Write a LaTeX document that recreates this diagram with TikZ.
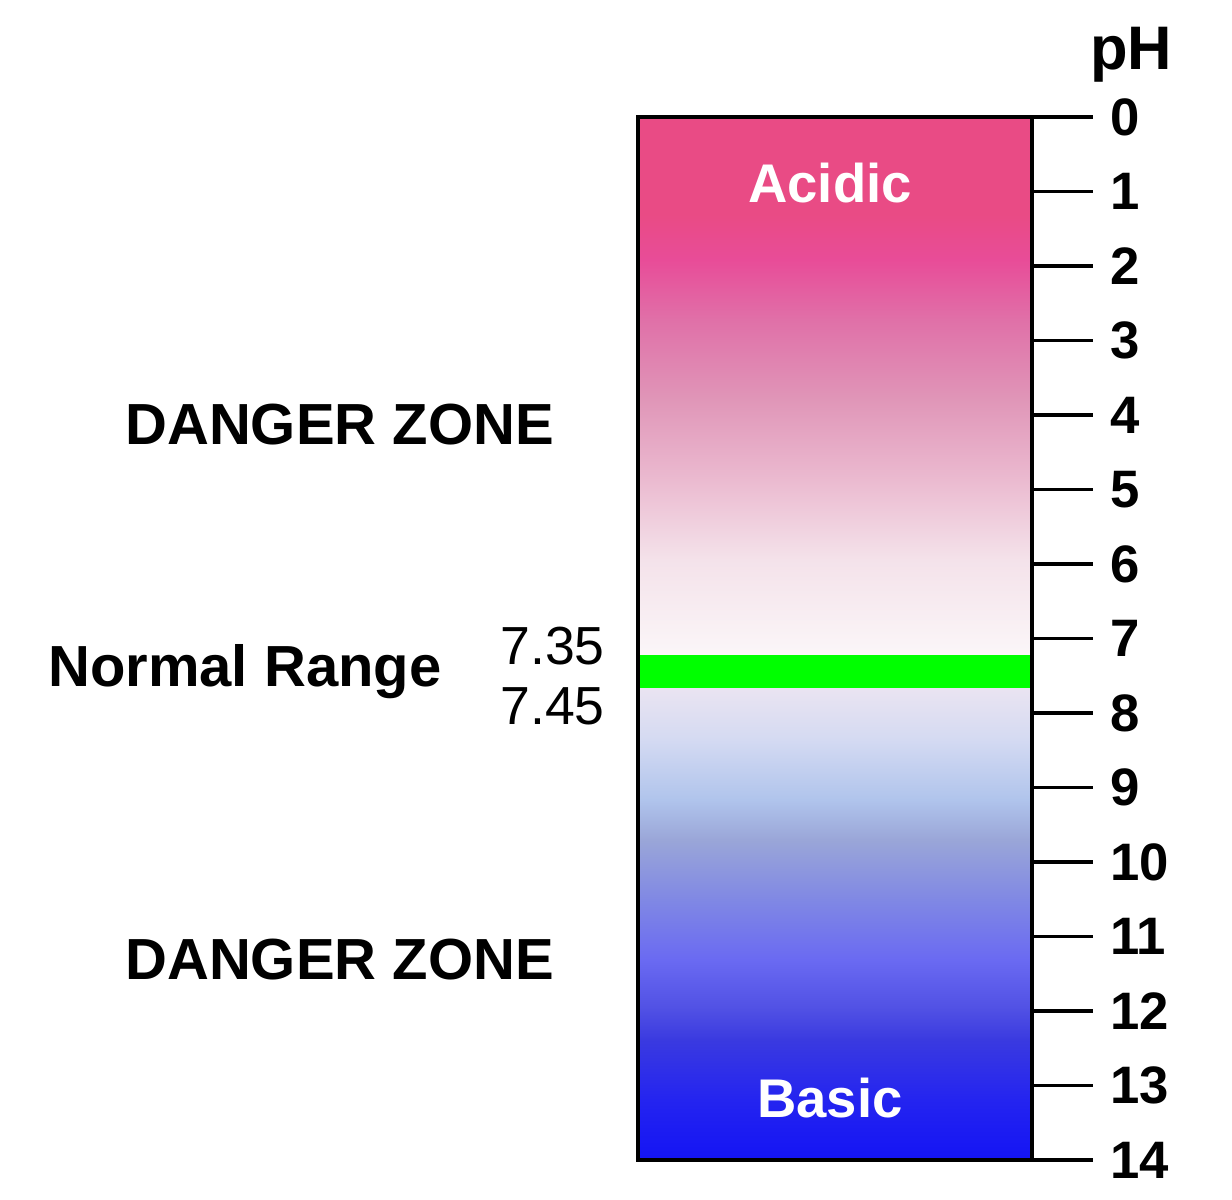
\documentclass[tikz,border=0pt]{standalone}
\usepackage{fontspec}
\setmainfont{Liberation Sans}
\definecolor{acidtop}{HTML}{E94B85}
\definecolor{c2}{HTML}{E84C98}
\definecolor{c3}{HTML}{E070A8}
\definecolor{c4}{HTML}{E096B8}
\definecolor{c5}{HTML}{EBBAD0}
\definecolor{c6}{HTML}{F4E2EA}
\definecolor{c7}{HTML}{FBF6F8}
\definecolor{b1}{HTML}{EAE4F2}
\definecolor{b2}{HTML}{D4DAF2}
\definecolor{b3}{HTML}{B0C4EC}
\definecolor{b4}{HTML}{9AA6D8}
\definecolor{b5}{HTML}{8088E4}
\definecolor{b6}{HTML}{6A6AF2}
\definecolor{b7}{HTML}{5050E4}
\definecolor{b8}{HTML}{3A3AE0}
\definecolor{b9}{HTML}{2424F0}
\definecolor{b10}{HTML}{1414F4}
\definecolor{normalgreen}{HTML}{00FF00}
\begin{document}
\begin{tikzpicture}[x=0.02cm,y=0.02cm,
  lbl/.style={inner sep=0pt,font=\fontsize{33}{38}\selectfont\bfseries},
  num/.style={inner sep=0pt,anchor=west,font=\fontsize{30}{36}\selectfont\bfseries},
  val/.style={inner sep=0pt,anchor=base west,font=\fontsize{30.5}{36}\selectfont},
  inbar/.style={inner sep=0pt,anchor=base,text=white,font=\fontsize{31}{36}\selectfont\bfseries},
  tick/.style={line width=2.2pt}]
\useasboundingbox (0,0) rectangle (1232,1200);
% gradient bands
\fill[acidtop] (638,985) rectangle (1032,1083);
\shade[top color=acidtop,bottom color=c2] (638,940) rectangle (1032,985.5);
\shade[top color=c2,bottom color=c3] (638,880) rectangle (1032,940.5);
\shade[top color=c3,bottom color=c4] (638,800) rectangle (1032,880.5);
\shade[top color=c4,bottom color=c5] (638,720) rectangle (1032,800.5);
\shade[top color=c5,bottom color=c6] (638,640) rectangle (1032,720.5);
\shade[top color=c6,bottom color=c7] (638,545) rectangle (1032,640.5);
\shade[top color=b1,bottom color=b2] (638,460) rectangle (1032,512);
\shade[top color=b2,bottom color=b3] (638,400) rectangle (1032,460.5);
\shade[top color=b3,bottom color=b4] (638,360) rectangle (1032,400.5);
\shade[top color=b4,bottom color=b5] (638,300) rectangle (1032,360.5);
\shade[top color=b5,bottom color=b6] (638,240) rectangle (1032,300.5);
\shade[top color=b6,bottom color=b7] (638,190) rectangle (1032,240.5);
\shade[top color=b7,bottom color=b8] (638,160) rectangle (1032,190.5);
\shade[top color=b8,bottom color=b9] (638,100) rectangle (1032,160.5);
\shade[top color=b9,bottom color=b10] (638,40) rectangle (1032,100.5);
% normal range band
\fill[normalgreen] (638,512) rectangle (1032,545);
% bar outline
\draw[line width=2.3pt] (638,40) rectangle (1032,1083);
% ticks and numbers
\foreach \p in {0,...,14}{
  \pgfmathsetmacro{\yy}{1083-74.5*\p}
  \coordinate (t\p) at (1032,\yy);
  \coordinate (te\p) at (1093,\yy);
  \draw[tick] (t\p) -- (te\p);
  \node[num] (n\p) at (1110,\yy) {\p};
}
\node[inner sep=0pt,anchor=base west,font=\fontsize{35}{40}\selectfont\bfseries] (ph) at (1090,1130) {pH};
% bar texts
\node[inbar] (acidic) at (830,997) {Acidic};
\node[inbar] (basic) at (830,82) {Basic};
% left labels
\node[lbl,anchor=base west] (dz1) at (125,755) {DANGER ZONE};
\node[lbl,anchor=base west] (dz2) at (125,220) {DANGER ZONE};
\node[lbl,anchor=base west] (normal) at (48,513) {Normal Range};
\node[val] (v1) at (500,535) {7.35};
\node[val] (v2) at (500,475) {7.45};
\end{tikzpicture}
\end{document}
